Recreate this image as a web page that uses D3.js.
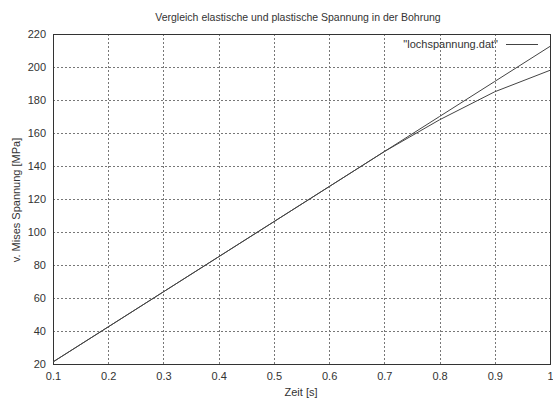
<!DOCTYPE html>
<html>
<head>
<meta charset="utf-8">
<script src="https://cdn.jsdelivr.net/npm/d3@7"></script>
<style>
  html, body { margin: 0; padding: 0; background: #fff; }
  svg text { font-family: "Liberation Sans", Arial, sans-serif; fill: #333; }
</style>
</head>
<body>
<svg id="chart" width="553" height="399"></svg>
<script>
// Zeitpunkte und von-Mises-Spannungen aus lochspannung.dat
const zeitElastisch = [0.1, 0.2, 0.3, 0.4, 0.5, 0.6, 0.7, 0.8, 0.9, 1.0];
const spannungElastisch = [21.25, 42.5, 63.75, 85, 106.25, 127.5, 148.75, 170, 191.25, 212.5];
const zeitPlastisch = [0.1, 0.2, 0.3, 0.4, 0.5, 0.6, 0.7, 0.8, 0.9, 1.0];
const spannungPlastisch = [21.25, 42.5, 63.75, 85, 106.25, 127.5, 148.75, 168, 185, 198];
const xTicks = [0.1, 0.2, 0.3, 0.4, 0.5, 0.6, 0.7, 0.8, 0.9, 1];
const yTicks = [20, 40, 60, 80, 100, 120, 140, 160, 180, 200, 220];

const titel = "Vergleich elastische und plastische Spannung in der Bohrung";
const xLabel = "Zeit [s]";
const yLabel = "v. Mises Spannung [MPa]";
const legendeText = "\"lochspannung.dat\"";

const svg = d3.select("#chart");
const plotLeft = 53, plotRight = 550, plotTop = 34, plotBottom = 364;

const x = d3.scaleLinear().domain([0.1, 1]).range([plotLeft, plotRight]);
const y = d3.scaleLinear().domain([20, 220]).range([plotBottom, plotTop]);

const px = v => Math.round(v) + 0.5;

// Gitterlinien
const grid = svg.append("g").attr("stroke", "#777").attr("stroke-width", 1)
  .attr("stroke-dasharray", "2,2").attr("shape-rendering", "crispEdges");
grid.selectAll("line.v").data(xTicks.slice(1, -1)).enter().append("line")
  .attr("x1", d => px(x(d))).attr("x2", d => px(x(d)))
  .attr("y1", plotTop).attr("y2", plotBottom);
grid.selectAll("line.h").data(yTicks.slice(1, -1)).enter().append("line")
  .attr("x1", plotLeft).attr("x2", plotRight)
  .attr("y1", d => px(y(d))).attr("y2", d => px(y(d)));

// Achsen mit Beschriftung
const xAxis = d3.axisBottom(x).tickValues(xTicks).tickSize(0).tickPadding(8)
  .tickFormat(d => d === 1 ? "1" : d3.format(".1f")(d));
const gx = svg.append("g").attr("transform", `translate(0,${plotBottom})`).call(xAxis);
gx.select(".domain").remove();
gx.selectAll("text").attr("font-size", 11).attr("fill", "#333")
  .attr("font-family", "Liberation Sans, Arial, sans-serif");

const yAxis = d3.axisLeft(y).tickValues(yTicks).tickSize(0).tickPadding(7);
const gy = svg.append("g").attr("transform", `translate(${plotLeft},0)`).call(yAxis);
gy.select(".domain").remove();
gy.selectAll("text").attr("font-size", 11).attr("fill", "#333")
  .attr("font-family", "Liberation Sans, Arial, sans-serif");

// Rahmen
svg.append("rect")
  .attr("x", plotLeft + 0.5).attr("y", plotTop + 0.5)
  .attr("width", plotRight - plotLeft).attr("height", plotBottom - plotTop)
  .attr("fill", "none").attr("stroke", "#333").attr("stroke-width", 1)
  .attr("shape-rendering", "crispEdges");

// Kurven: elastisch und plastisch
const line = d3.line().x(d => x(d[0])).y(d => y(d[1]));
const kurven = [
  d3.zip(zeitElastisch, spannungElastisch),
  d3.zip(zeitPlastisch, spannungPlastisch)
];
svg.append("g").selectAll("path").data(kurven).enter().append("path")
  .attr("d", line).attr("fill", "none").attr("stroke", "#444").attr("stroke-width", 1);

// Legende
svg.append("text").attr("x", 498).attr("y", 48).attr("text-anchor", "end")
  .attr("font-size", 11).text(legendeText);
svg.append("line").attr("x1", 506).attr("x2", 538).attr("y1", 44.5).attr("y2", 44.5)
  .attr("stroke", "#444").attr("stroke-width", 1);

// Titel und Achsentitel
svg.append("text").attr("x", 298).attr("y", 21).attr("text-anchor", "middle")
  .attr("font-size", 10.5).text(titel);
svg.append("text").attr("x", 301).attr("y", 396).attr("text-anchor", "middle")
  .attr("font-size", 11).text(xLabel);
svg.append("text").attr("transform", "translate(20,200) rotate(-90)")
  .attr("text-anchor", "middle").attr("font-size", 11).text(yLabel);
</script>
</body>
</html>
